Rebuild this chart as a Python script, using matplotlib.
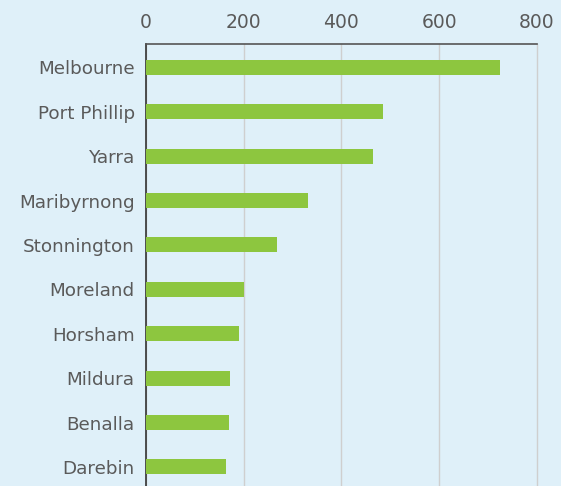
import matplotlib.pyplot as plt

councils = ["Melbourne", "Port Phillip", "Yarra", "Maribyrnong", "Stonnington",
            "Moreland", "Horsham", "Mildura", "Benalla", "Darebin"]
values = [724, 485, 464, 331, 268, 200, 190, 172, 170, 164]
xticks = [0, 200, 400, 600, 800]

bg = "#dff0f9"
green = "#8dc63f"
text_col = "#5a5a5a"

plt.rcParams['font.family'] = ['DejaVu Sans']

fig = plt.figure(figsize=(5.61, 4.86), dpi=100, facecolor=bg)
ax = fig.add_axes([0.260, 0.0, 0.697, 0.909])
ax.set_facecolor(bg)

pos = list(range(len(councils)))
ax.barh(pos, values, height=0.34, color=green, zorder=3)

ax.set_xlim(0, 800)
ax.set_ylim(9.43, -0.52)
ax.set_xticks(xticks)
ax.set_yticks(pos)
ax.set_yticklabels(councils)
ax.xaxis.tick_top()
ax.tick_params(axis='x', length=0, pad=9, labelsize=13.5, labelcolor=text_col)
ax.tick_params(axis='y', length=0, pad=8, labelsize=13.2, labelcolor=text_col)

ax.grid(axis='x', color="#cfcfcf", linewidth=1.0, zorder=0)
for gl in ax.get_xgridlines():
    gl.set_clip_on(False)
for s in ['right', 'bottom']:
    ax.spines[s].set_visible(False)
ax.spines['left'].set_color("#333333")
ax.spines['left'].set_linewidth(1.2)
ax.spines['top'].set_color("#555555")
ax.spines['top'].set_linewidth(1.2)

fig.savefig("out.png", dpi=100, facecolor=bg)
